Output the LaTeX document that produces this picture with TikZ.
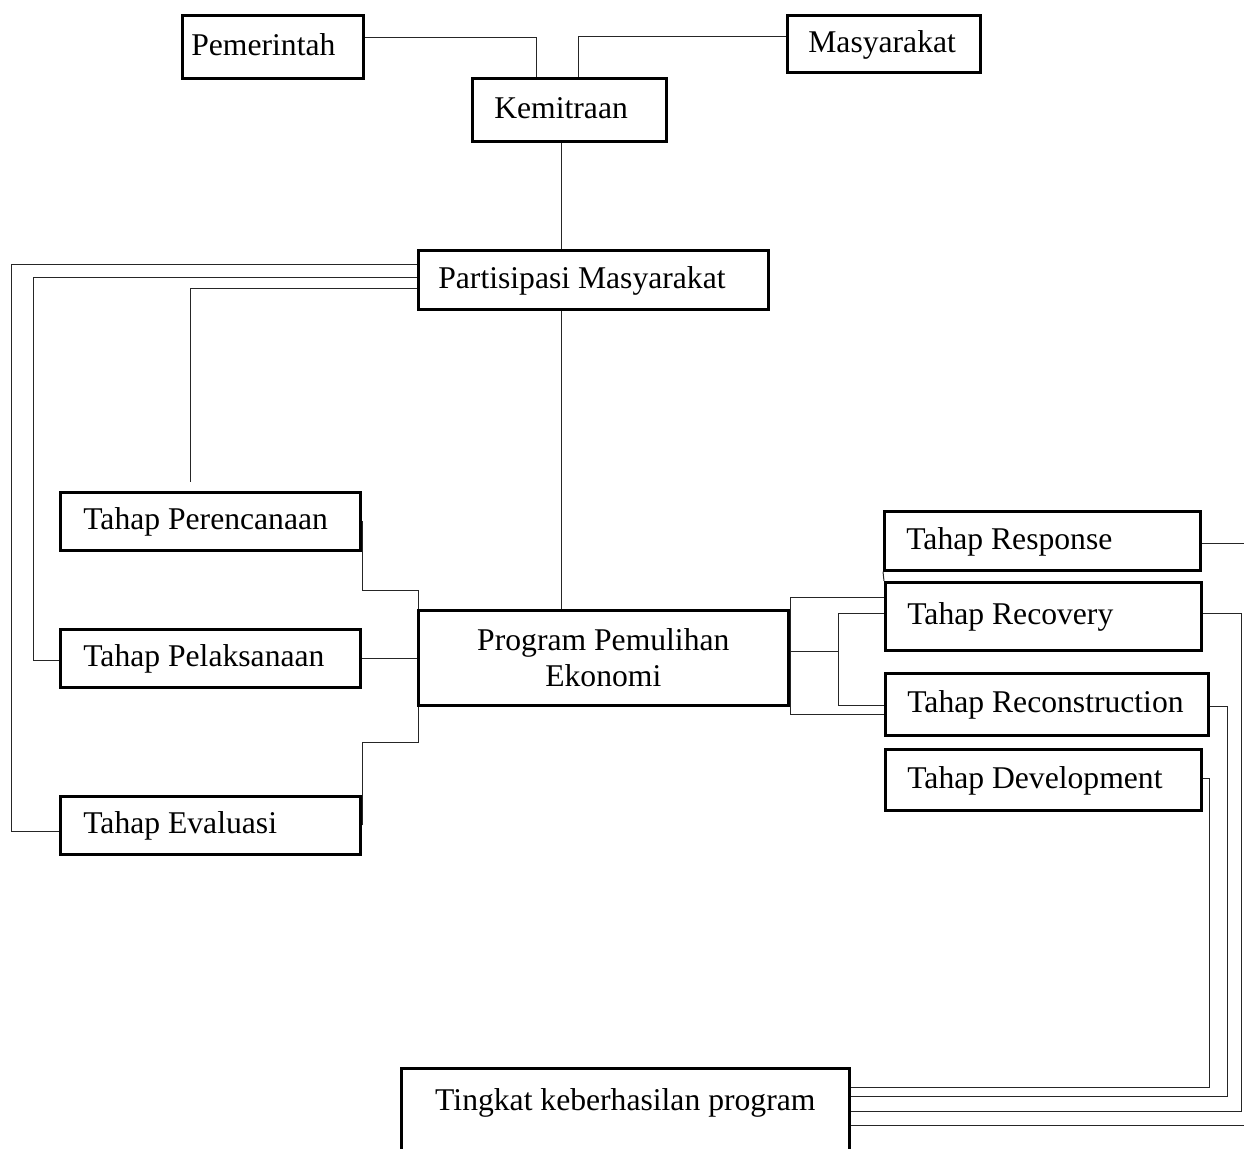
\documentclass[tikz,border=0pt]{standalone}
\usepackage{fontspec}
\setmainfont{Liberation Serif}
\usetikzlibrary{calc}
\newlength{\pxu}
\setlength{\pxu}{0.025cm}
\newcommand{\boxtext}[3]{\makebox[#1\pxu][l]{\hspace*{#2\pxu}#3}}
\tikzset{
  box/.style={draw, line width=1.9pt, anchor=north west, inner sep=0pt},
  tag/.style={box, text height=1.3em, text depth=0.1em},
  link/.style={line width=0.7pt, black!85},
}
\begin{document}
\begin{tikzpicture}[x=0.025cm, y=-0.025cm, font=\fontsize{22.5}{25.6}\selectfont]
    \useasboundingbox (0,0) rectangle (1244,1149);

    \node[tag, minimum height=63\pxu] (pem) at (181,14) {\boxtext{181}{9}{Pemerintah}};
    \node[tag, minimum height=57\pxu] (mas) at (786,14) {\boxtext{193}{21}{Masyarakat}};
    \node[tag, minimum height=63\pxu] (kem) at (471,77) {\boxtext{194}{22}{Kemitraan}};
    \node[tag, minimum height=59\pxu] (par) at (417,249) {\boxtext{350}{20}{Partisipasi Masyarakat}};
    \node[tag, minimum height=58\pxu] (per) at (59,491) {\boxtext{300}{23}{Tahap Perencanaan}};
    \node[tag, minimum height=58\pxu] (pel) at (59,628) {\boxtext{300}{23}{Tahap Pelaksanaan}};
    \node[tag, minimum height=58\pxu] (eva) at (59,795) {\boxtext{300}{23}{Tahap Evaluasi}};
    \node[box, minimum width=370\pxu, minimum height=95\pxu, align=center] (prog) at (417,609) {Program Pemulihan\\Ekonomi};
    \node[tag, minimum height=59\pxu] (res) at (883,510) {\boxtext{316}{22}{Tahap Response}};
    \node[tag, minimum height=68\pxu] (rec) at (884,581) {\boxtext{316}{22}{Tahap Recovery}};
    \node[tag, minimum height=62\pxu] (con) at (884,672) {\boxtext{323}{22}{Tahap Reconstruction}};
    \node[tag, minimum height=61\pxu] (dev) at (884,748) {\boxtext{316}{22}{Tahap Development}};
    \node[box, text height=42\pxu, text depth=60\pxu] (tin) at (400,1067) {\makebox[448\pxu]{Tingkat keberhasilan program}};

    \draw[link] ($(pem.north east)+(0,23)$) -| ($(kem.north west)+(65,0)$);
    \draw[link] ($(mas.north west)+(0,22)$) -| ($(kem.north west)+(107,0)$);
    \draw[link] ($(kem.south west)+(90,0)$) -- ($(par.north west)+(144,0)$);

    \draw[link] ($(par.north west)+(0,15)$) -- ++(-406,0) |- ($(eva.west)+(0,6)$);
    \draw[link] ($(par.north west)+(0,28)$) -- ++(-384,0) |- ($(pel.west)+(0,2)$);
    \draw[link] ($(par.north west)+(0,39)$) -| ($(per.north west)+(131,-9)$);
    \draw[link] ($(par.south west)+(144,0)$) -- ($(prog.north west)+(144,0)$);

    \draw[link] ($(per.east)+(1,0)$) |- ($(prog.north west)+(1,-19)$) -- ($(prog.north west)+(1,0)$);
    \draw[link] (pel.east) -- (pel.east -| prog.west);
    \draw[link] ($(eva.east)+(1,0)$) |- ($(prog.south west)+(1,36)$) -- ($(prog.south west)+(1,0)$);

    \draw[link] ($(rec.west)+(0,-19)$) -| ($(prog.east)+(1,0)$) |- ($(con.west)+(0,10)$);
    \draw[link] ($(prog.east)+(0,-6)$) -- ++(49,0);
    \draw[link] ($(rec.west)+(0,-3)$) -| ($(prog.east)+(49,0)$) |- ($(con.west)+(0,1)$);
    \draw[link] (res.south west) -- (rec.north west);

    \draw[link] ($(res.east)+(0,3)$) -- ++(60,0);
    \draw[link] ($(rec.east)+(0,-3)$) -| ($(tin.north east)+(391,44)$) -- ($(tin.north east)+(0,44)$);
    \draw[link] ($(con.east)+(0,2)$) -| ($(tin.north east)+(377,29)$) -- ($(tin.north east)+(0,29)$);
    \draw[link] ($(dev.east)+(0,-1)$) -| ($(tin.north east)+(359,20)$) -- ($(tin.north east)+(0,20)$);
    \draw[link] ($(tin.north east)+(0,58)$) -- ++(420,0);
\end{tikzpicture}
\end{document}
